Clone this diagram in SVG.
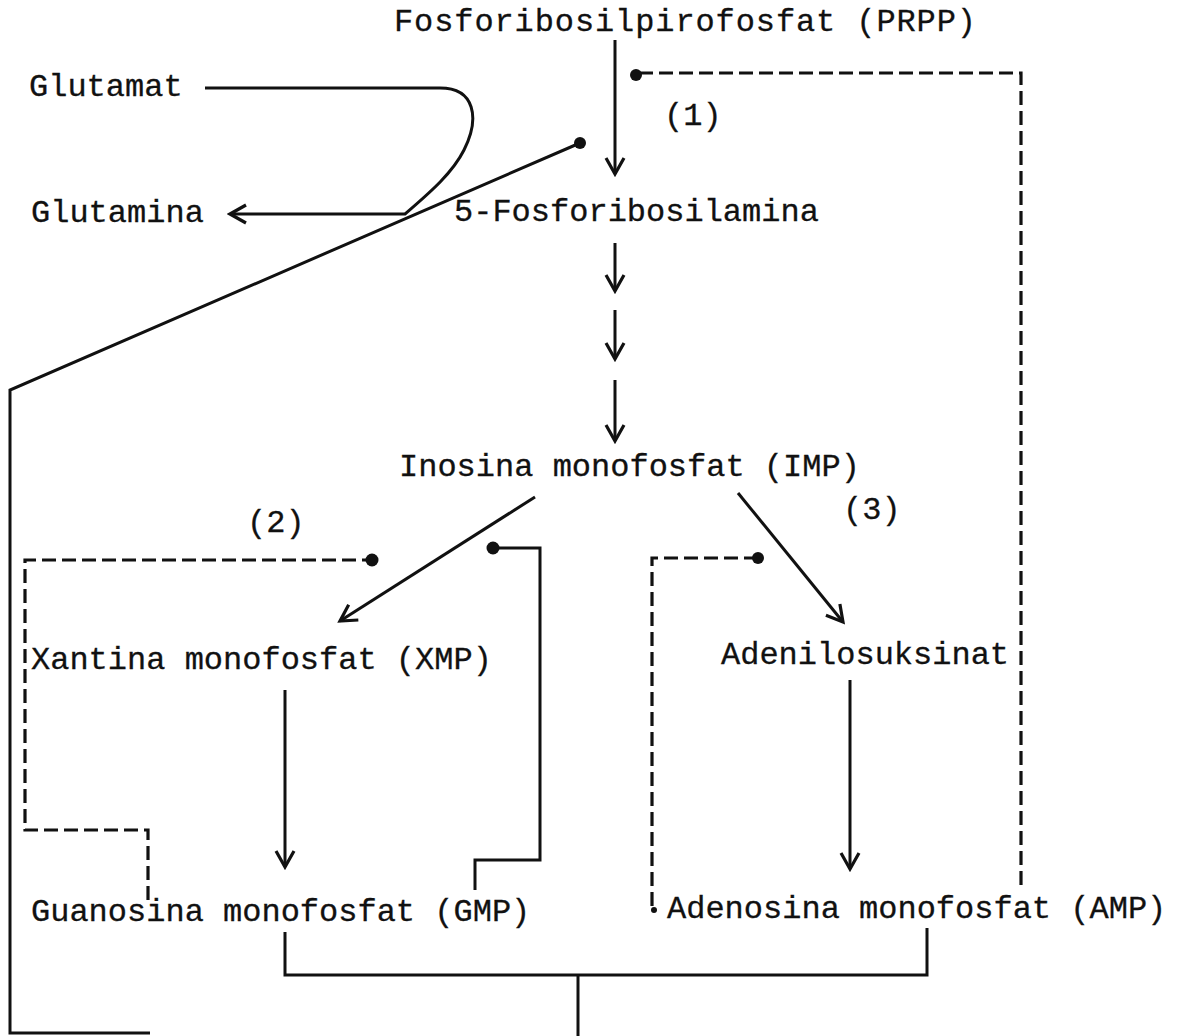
<svg xmlns="http://www.w3.org/2000/svg" width="1180" height="1036" viewBox="0 0 1180 1036">
<style>
text{font-family:"Liberation Mono","Courier New",monospace;font-size:32px;fill:#111;stroke:#111;stroke-width:0.3}
.s{fill:none;stroke:#111;stroke-width:3;stroke-linejoin:miter}
.d{fill:none;stroke:#111;stroke-width:3.2;stroke-dasharray:14 6}
.dot{fill:#111}
</style>
<defs>
<marker id="arr" viewBox="0 0 24 24" refX="21" refY="12" markerWidth="24" markerHeight="24" markerUnits="userSpaceOnUse" orient="auto">
<path d="M5,3 L21,12 L5,21" fill="none" stroke="#111" stroke-width="3.2"/>
</marker>
</defs>
<rect width="1180" height="1036" fill="#fff"/>
<g id="connectors">
<path class="s" d="M615,40 V174" marker-end="url(#arr)"/>
<path class="s" d="M615,243 V291" marker-end="url(#arr)"/>
<path class="s" d="M615,310 V359" marker-end="url(#arr)"/>
<path class="s" d="M615,380 V441" marker-end="url(#arr)"/>
<path class="d" d="M1021,885 V73 H637"/>
<circle class="dot" cx="636" cy="75" r="6"/>
<path class="s" d="M205,88 H440 C475,88 480,118 464,150 C452,174 428,194 405,214 H230" marker-end="url(#arr)"/>
<path class="s" d="M580,143 L10,390 V1033 H150"/>
<circle class="dot" cx="580" cy="143" r="6"/>
<path class="s" d="M535,497 L340,621" marker-end="url(#arr)"/>
<path class="s" d="M738,493 L843,622" marker-end="url(#arr)"/>
<path class="d" d="M148,900 V830 H25 V560 H372"/>
<circle class="dot" cx="372" cy="560" r="6.5"/>
<path class="s" d="M475,890 V860 H540 V548 H493"/>
<circle class="dot" cx="493" cy="548" r="6.5"/>
<path class="s" d="M285,690 V867" marker-end="url(#arr)"/>
<path class="s" d="M850,680 V869" marker-end="url(#arr)"/>
<path class="d" d="M652,906 V558 H758"/>
<circle class="dot" cx="758" cy="558" r="6"/>
<circle class="dot" cx="654" cy="910" r="3"/>
<path class="s" d="M285,932 V975 H927 V928"/>
<path class="s" d="M578,975 V1036"/>
</g>
<g id="prpp"><text x="394" y="31" textLength="582">Fosforibosilpirofosfat (PRPP)</text></g>
<g id="glutamat"><text x="29" y="96">Glutamat</text></g>
<g id="glutamina"><text x="31" y="222">Glutamina</text></g>
<g id="fra"><text x="454" y="221">5-Fosforibosilamina</text></g>
<g id="l1"><text x="664" y="125">(1)</text></g>
<g id="imp"><text x="399" y="476">Inosina monofosfat (IMP)</text></g>
<g id="l2"><text x="247" y="532">(2)</text></g>
<g id="l3"><text x="843" y="519">(3)</text></g>
<g id="xmp"><text x="31" y="669">Xantina monofosfat (XMP)</text></g>
<g id="adenilo"><text x="721" y="664">Adenilosuksinat</text></g>
<g id="gmp"><text x="31" y="921">Guanosina monofosfat (GMP)</text></g>
<g id="amp"><text x="667" y="918">Adenosina monofosfat (AMP)</text></g>
</svg>
